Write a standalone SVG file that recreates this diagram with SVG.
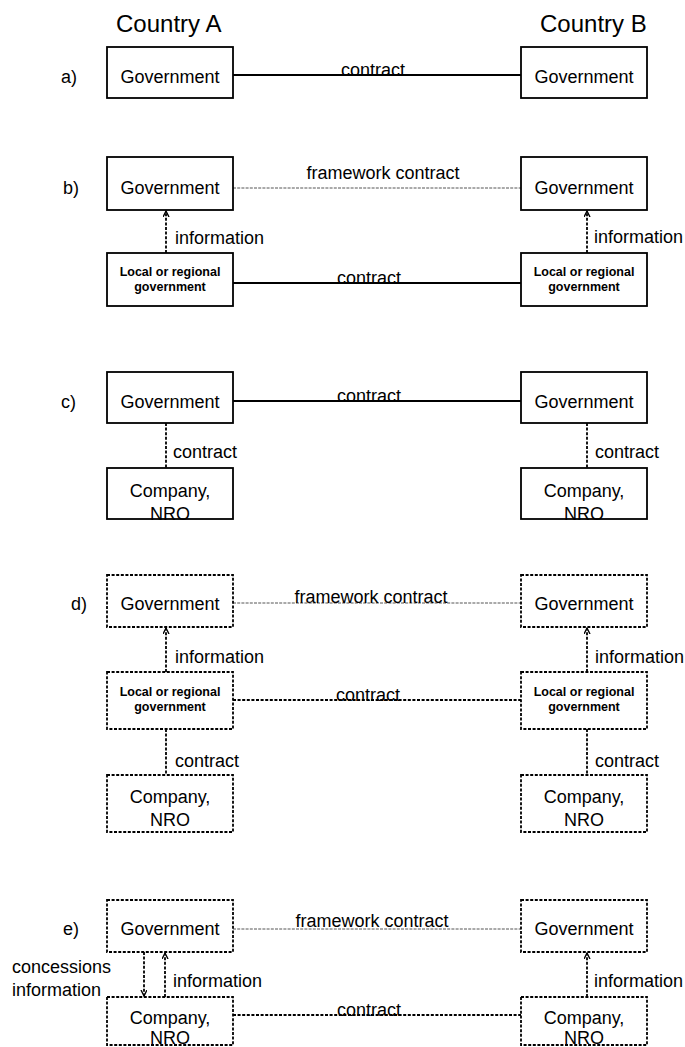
<svg xmlns="http://www.w3.org/2000/svg" width="685" height="1047" viewBox="0 0 685 1047">
<style>
text{font-family:"Liberation Sans",Arial,sans-serif;fill:#000}
.t{font-size:18px}
.c{text-anchor:middle}
.hd{font-size:24px}
.lg{font-size:12.5px;font-weight:bold;text-anchor:middle}
.box{fill:#fff;stroke:#000;stroke-width:1.8}
.dbox{fill:#fff;stroke:#000;stroke-width:1.8;stroke-dasharray:3 1.6}
.solid{stroke:#000;stroke-width:1.8;fill:none}
.fw{stroke:#555;stroke-width:1;stroke-dasharray:3 1.2;fill:none}
.dl{stroke:#000;stroke-width:1.8;stroke-dasharray:3 1.6;fill:none}
</style>
<defs>
<marker id="ah" markerUnits="userSpaceOnUse" markerWidth="8" markerHeight="8" refX="6" refY="3" orient="auto">
<path d="M0,0 L6,3 L0,6" fill="none" stroke="#000" stroke-width="1.4"/>
</marker>
</defs>

<g id="headers">
<text class="hd" x="116" y="32">Country A</text>
<text class="hd" x="540" y="32">Country B</text>
<text class="t" x="61" y="83">a)</text>
<text class="t" x="63" y="194">b)</text>
<text class="t" x="61" y="408">c)</text>
<text class="t" x="71" y="610">d)</text>
<text class="t" x="63" y="935">e)</text>
</g>

<g id="connectors">
<line class="solid" x1="233" y1="75" x2="521" y2="75"/>
<line class="fw" x1="233" y1="188" x2="521" y2="188"/>
<line class="solid" x1="233" y1="283" x2="521" y2="283"/>
<line class="dl" x1="166" y1="253" x2="166" y2="211" marker-end="url(#ah)"/>
<line class="dl" x1="587" y1="253" x2="587" y2="211" marker-end="url(#ah)"/>
<line class="solid" x1="233" y1="401" x2="521" y2="401"/>
<line class="dl" x1="166" y1="423" x2="166" y2="468"/>
<line class="dl" x1="587" y1="423" x2="587" y2="468"/>
<line class="fw" x1="233" y1="603" x2="521" y2="603"/>
<line class="dl" x1="233" y1="700" x2="521" y2="700"/>
<line class="dl" x1="166" y1="672" x2="166" y2="628" marker-end="url(#ah)"/>
<line class="dl" x1="587" y1="672" x2="587" y2="628" marker-end="url(#ah)"/>
<line class="dl" x1="166" y1="729" x2="166" y2="775"/>
<line class="dl" x1="587" y1="729" x2="587" y2="775"/>
<line class="fw" x1="233" y1="929" x2="521" y2="929"/>
<line class="dl" x1="233" y1="1015" x2="521" y2="1015"/>
<line class="dl" x1="165" y1="997" x2="165" y2="953" marker-end="url(#ah)"/>
<line class="dl" x1="144" y1="952" x2="144" y2="996" marker-end="url(#ah)"/>
<line class="dl" x1="587" y1="997" x2="587" y2="953" marker-end="url(#ah)"/>
</g>

<g id="connector-labels">
<text class="t c" x="373" y="76">contract</text>
<text class="t c" x="383" y="179">framework contract</text>
<text class="t" x="175" y="244">information</text>
<text class="t" x="594" y="243">information</text>
<text class="t c" x="369" y="284">contract</text>
<text class="t c" x="369" y="402">contract</text>
<text class="t" x="173" y="458">contract</text>
<text class="t" x="595" y="458">contract</text>
<text class="t c" x="371" y="603">framework contract</text>
<text class="t" x="175" y="663">information</text>
<text class="t" x="595" y="663">information</text>
<text class="t c" x="368" y="701">contract</text>
<text class="t" x="175" y="767">contract</text>
<text class="t" x="595" y="767">contract</text>
<text class="t c" x="372" y="927">framework contract</text>
<text class="t" x="12" y="973">concessions</text>
<text class="t" x="12" y="996">information</text>
<text class="t" x="173" y="987">information</text>
<text class="t" x="594" y="987">information</text>
<text class="t c" x="369" y="1016">contract</text>
</g>

<g id="a-gov-A"><rect class="box" x="107" y="47" width="126" height="51"/><text class="t c" x="170" y="83">Government</text></g>
<g id="a-gov-B"><rect class="box" x="521" y="47" width="126" height="51"/><text class="t c" x="584" y="83">Government</text></g>

<g id="b-gov-A"><rect class="box" x="107" y="157" width="126" height="53"/><text class="t c" x="170" y="194">Government</text></g>
<g id="b-gov-B"><rect class="box" x="521" y="157" width="126" height="53"/><text class="t c" x="584" y="194">Government</text></g>
<g id="b-local-A"><rect class="box" x="107" y="253" width="126" height="53"/><text class="lg" x="170" y="276">Local or regional</text><text class="lg" x="170" y="291">government</text></g>
<g id="b-local-B"><rect class="box" x="521" y="253" width="126" height="53"/><text class="lg" x="584" y="276">Local or regional</text><text class="lg" x="584" y="291">government</text></g>

<g id="c-gov-A"><rect class="box" x="107" y="372" width="126" height="51"/><text class="t c" x="170" y="408">Government</text></g>
<g id="c-gov-B"><rect class="box" x="521" y="372" width="126" height="51"/><text class="t c" x="584" y="408">Government</text></g>
<g id="c-company-A"><rect class="box" x="107" y="468" width="126" height="51"/><text class="t c" x="170" y="497">Company,</text><text class="t c" x="170" y="520">NRO</text></g>
<g id="c-company-B"><rect class="box" x="521" y="468" width="126" height="51"/><text class="t c" x="584" y="497">Company,</text><text class="t c" x="584" y="520">NRO</text></g>

<g id="d-gov-A"><rect class="dbox" x="107" y="575" width="126" height="52"/><text class="t c" x="170" y="610">Government</text></g>
<g id="d-gov-B"><rect class="dbox" x="521" y="575" width="126" height="52"/><text class="t c" x="584" y="610">Government</text></g>
<g id="d-local-A"><rect class="dbox" x="107" y="672" width="126" height="57"/><text class="lg" x="170" y="696">Local or regional</text><text class="lg" x="170" y="711">government</text></g>
<g id="d-local-B"><rect class="dbox" x="521" y="672" width="126" height="57"/><text class="lg" x="584" y="696">Local or regional</text><text class="lg" x="584" y="711">government</text></g>
<g id="d-company-A"><rect class="dbox" x="107" y="775" width="126" height="57"/><text class="t c" x="170" y="803">Company,</text><text class="t c" x="170" y="826">NRO</text></g>
<g id="d-company-B"><rect class="dbox" x="521" y="775" width="126" height="57"/><text class="t c" x="584" y="803">Company,</text><text class="t c" x="584" y="826">NRO</text></g>

<g id="e-gov-A"><rect class="dbox" x="107" y="900" width="126" height="52"/><text class="t c" x="170" y="935">Government</text></g>
<g id="e-gov-B"><rect class="dbox" x="521" y="900" width="126" height="52"/><text class="t c" x="584" y="935">Government</text></g>
<g id="e-company-A"><rect class="dbox" x="107" y="997" width="126" height="48"/><text class="t c" x="170" y="1024">Company,</text><text class="t c" x="170" y="1044">NRO</text></g>
<g id="e-company-B"><rect class="dbox" x="521" y="997" width="126" height="48"/><text class="t c" x="584" y="1024">Company,</text><text class="t c" x="584" y="1044">NRO</text></g>
</svg>
